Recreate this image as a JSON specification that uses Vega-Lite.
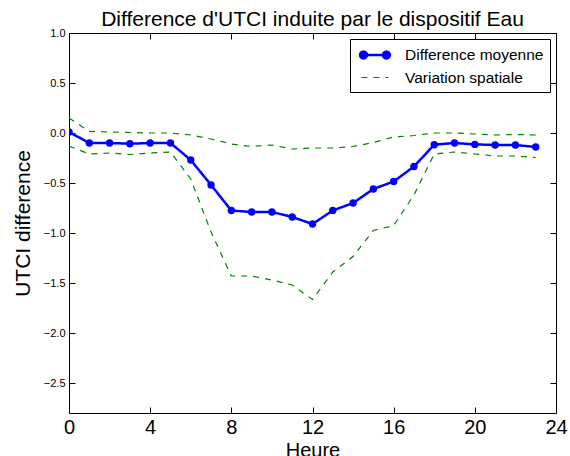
{
  "$schema": "https://vega.github.io/schema/vega-lite/v6.json",
  "width": 487,
  "height": 380,
  "autosize": {"type": "none"},
  "padding": {"left": 69, "top": 33, "right": 14, "bottom": 43},
  "background": "white",
  "config": {
    "font": "Liberation Sans",
    "view": {"stroke": "black", "strokeWidth": 1},
    "axis": {"grid": false, "domain": false, "tickColor": "black", "labelColor": "black", "titleColor": "black", "titleFontWeight": "normal", "labelFont": "Liberation Sans", "titleFont": "Liberation Sans"}
  },
  "title": {"text": "Difference d'UTCI induite par le dispositif Eau", "fontSize": 21, "fontWeight": "normal", "font": "Liberation Sans", "color": "black", "offset": -3},
  "data": {"values": [
    {"h":0,"s":"Difference moyenne","b":"m","v":0.01},
    {"h":1,"s":"Difference moyenne","b":"m","v":-0.10},
    {"h":2,"s":"Difference moyenne","b":"m","v":-0.10},
    {"h":3,"s":"Difference moyenne","b":"m","v":-0.107},
    {"h":4,"s":"Difference moyenne","b":"m","v":-0.10},
    {"h":5,"s":"Difference moyenne","b":"m","v":-0.10},
    {"h":6,"s":"Difference moyenne","b":"m","v":-0.27},
    {"h":7,"s":"Difference moyenne","b":"m","v":-0.52},
    {"h":8,"s":"Difference moyenne","b":"m","v":-0.775},
    {"h":9,"s":"Difference moyenne","b":"m","v":-0.79},
    {"h":10,"s":"Difference moyenne","b":"m","v":-0.79},
    {"h":11,"s":"Difference moyenne","b":"m","v":-0.84},
    {"h":12,"s":"Difference moyenne","b":"m","v":-0.91},
    {"h":13,"s":"Difference moyenne","b":"m","v":-0.775},
    {"h":14,"s":"Difference moyenne","b":"m","v":-0.70},
    {"h":15,"s":"Difference moyenne","b":"m","v":-0.56},
    {"h":16,"s":"Difference moyenne","b":"m","v":-0.485},
    {"h":17,"s":"Difference moyenne","b":"m","v":-0.335},
    {"h":18,"s":"Difference moyenne","b":"m","v":-0.117},
    {"h":19,"s":"Difference moyenne","b":"m","v":-0.10},
    {"h":20,"s":"Difference moyenne","b":"m","v":-0.114},
    {"h":21,"s":"Difference moyenne","b":"m","v":-0.12},
    {"h":22,"s":"Difference moyenne","b":"m","v":-0.12},
    {"h":23,"s":"Difference moyenne","b":"m","v":-0.14},
    {"h":0,"s":"Variation spatiale","b":"u","v":0.15},
    {"h":1,"s":"Variation spatiale","b":"u","v":0.016},
    {"h":2,"s":"Variation spatiale","b":"u","v":0.01},
    {"h":3,"s":"Variation spatiale","b":"u","v":0.005},
    {"h":4,"s":"Variation spatiale","b":"u","v":0.0},
    {"h":5,"s":"Variation spatiale","b":"u","v":0.0},
    {"h":6,"s":"Variation spatiale","b":"u","v":-0.02},
    {"h":7,"s":"Variation spatiale","b":"u","v":-0.06},
    {"h":8,"s":"Variation spatiale","b":"u","v":-0.11},
    {"h":9,"s":"Variation spatiale","b":"u","v":-0.135},
    {"h":10,"s":"Variation spatiale","b":"u","v":-0.12},
    {"h":11,"s":"Variation spatiale","b":"u","v":-0.16},
    {"h":12,"s":"Variation spatiale","b":"u","v":-0.15},
    {"h":13,"s":"Variation spatiale","b":"u","v":-0.15},
    {"h":14,"s":"Variation spatiale","b":"u","v":-0.135},
    {"h":15,"s":"Variation spatiale","b":"u","v":-0.095},
    {"h":16,"s":"Variation spatiale","b":"u","v":-0.04},
    {"h":17,"s":"Variation spatiale","b":"u","v":-0.025},
    {"h":18,"s":"Variation spatiale","b":"u","v":0.0},
    {"h":19,"s":"Variation spatiale","b":"u","v":0.0},
    {"h":20,"s":"Variation spatiale","b":"u","v":-0.01},
    {"h":21,"s":"Variation spatiale","b":"u","v":-0.02},
    {"h":22,"s":"Variation spatiale","b":"u","v":-0.015},
    {"h":23,"s":"Variation spatiale","b":"u","v":-0.02},
    {"h":0,"s":"Variation spatiale","b":"l","v":-0.13},
    {"h":1,"s":"Variation spatiale","b":"l","v":-0.21},
    {"h":2,"s":"Variation spatiale","b":"l","v":-0.20},
    {"h":3,"s":"Variation spatiale","b":"l","v":-0.215},
    {"h":4,"s":"Variation spatiale","b":"l","v":-0.20},
    {"h":5,"s":"Variation spatiale","b":"l","v":-0.19},
    {"h":6,"s":"Variation spatiale","b":"l","v":-0.46},
    {"h":7,"s":"Variation spatiale","b":"l","v":-0.99},
    {"h":8,"s":"Variation spatiale","b":"l","v":-1.43},
    {"h":9,"s":"Variation spatiale","b":"l","v":-1.43},
    {"h":10,"s":"Variation spatiale","b":"l","v":-1.47},
    {"h":11,"s":"Variation spatiale","b":"l","v":-1.52},
    {"h":12,"s":"Variation spatiale","b":"l","v":-1.665},
    {"h":13,"s":"Variation spatiale","b":"l","v":-1.39},
    {"h":14,"s":"Variation spatiale","b":"l","v":-1.235},
    {"h":15,"s":"Variation spatiale","b":"l","v":-0.975},
    {"h":16,"s":"Variation spatiale","b":"l","v":-0.925},
    {"h":17,"s":"Variation spatiale","b":"l","v":-0.62},
    {"h":18,"s":"Variation spatiale","b":"l","v":-0.21},
    {"h":19,"s":"Variation spatiale","b":"l","v":-0.19},
    {"h":20,"s":"Variation spatiale","b":"l","v":-0.21},
    {"h":21,"s":"Variation spatiale","b":"l","v":-0.23},
    {"h":22,"s":"Variation spatiale","b":"l","v":-0.23},
    {"h":23,"s":"Variation spatiale","b":"l","v":-0.245}
  ]},
  "resolve": {"axis": {"x": "independent", "y": "independent"}},
  "layer": [
    {
      "mark": {"type": "line", "clip": true},
      "encoding": {
        "x": {"field": "h", "type": "quantitative", "scale": {"domain": [0, 24], "nice": false},
              "axis": {"orient": "bottom", "values": [0,4,8,12,16,20,24], "title": "Heure", "labelFontSize": 20, "titleFontSize": 20, "tickSize": -6, "labelPadding": 10, "titlePadding": 3, "labelFlush": false}},
        "y": {"field": "v", "type": "quantitative", "scale": {"domain": [-2.8, 1.0], "nice": false, "zero": false},
              "axis": {"orient": "left", "values": [-2.5,-2.0,-1.5,-1.0,-0.5,0.0,0.5,1.0], "format": ".1f", "title": "UTCI difference", "labelFontSize": 11, "titleFontSize": 21, "tickSize": -6, "labelPadding": 10, "titlePadding": 10}},
        "color": {"field": "s", "type": "nominal", "scale": {"domain": ["Difference moyenne", "Variation spatiale"], "range": ["#0000ff", "#008000"]},
                  "legend": {"title": null, "orient": "top-right", "offset": 6, "strokeColor": "black", "fillColor": "white", "padding": 6, "symbolOffset": 9, "labelFontSize": 15.5, "labelColor": "black", "symbolType": "stroke", "symbolSize": 289, "symbolStrokeWidth": 1.2, "rowPadding": 4, "labelOffset": 20,
                    "encode": {"symbols": {"update": {
                      "shape": {"signal": "datum.value === 'Difference moyenne' ? 'M-1.6,0L1.6,0M-1.75,0a0.4,0.4 0 1,0 0.8,0a0.4,0.4 0 1,0 -0.8,0ZM0.95,0a0.4,0.4 0 1,0 0.8,0a0.4,0.4 0 1,0 -0.8,0Z' : 'M-1.6,0L1.6,0'"},
                      "fill": {"signal": "datum.value === 'Difference moyenne' ? '#0000ff' : 'transparent'"},
                      "strokeWidth": {"signal": "datum.value === 'Difference moyenne' ? 2.5 : 1.2"},
                      "strokeDash": {"signal": "datum.value === 'Difference moyenne' ? [] : [6, 6]"}
                    }}}}},
        "strokeDash": {"field": "s", "type": "nominal", "scale": {"domain": ["Difference moyenne", "Variation spatiale"], "range": [[1, 0], [6, 6]]}, "legend": null},
        "strokeWidth": {"field": "s", "type": "nominal", "scale": {"domain": ["Difference moyenne", "Variation spatiale"], "range": [2.5, 1.2]}, "legend": null},
        "detail": {"field": "b", "type": "nominal"}
      }
    },
    {
      "transform": [{"filter": "datum.b === 'm'"}],
      "mark": {"type": "point", "filled": true, "opacity": 1, "color": "#0000ff", "size": 55, "clip": true},
      "encoding": {
        "x": {"field": "h", "type": "quantitative", "axis": null},
        "y": {"field": "v", "type": "quantitative", "axis": null}
      }
    },
    {
      "transform": [{"filter": "datum.b === 'm'"}],
      "mark": {"type": "point", "opacity": 0},
      "encoding": {
        "x": {"field": "h", "type": "quantitative", "axis": {"orient": "top", "values": [0,4,8,12,16,20,24], "labels": false, "title": null, "tickSize": -6}},
        "y": {"field": "v", "type": "quantitative", "axis": {"orient": "right", "values": [-2.5,-2.0,-1.5,-1.0,-0.5,0.0,0.5,1.0], "labels": false, "title": null, "tickSize": -6}}
      }
    }
  ]
}
